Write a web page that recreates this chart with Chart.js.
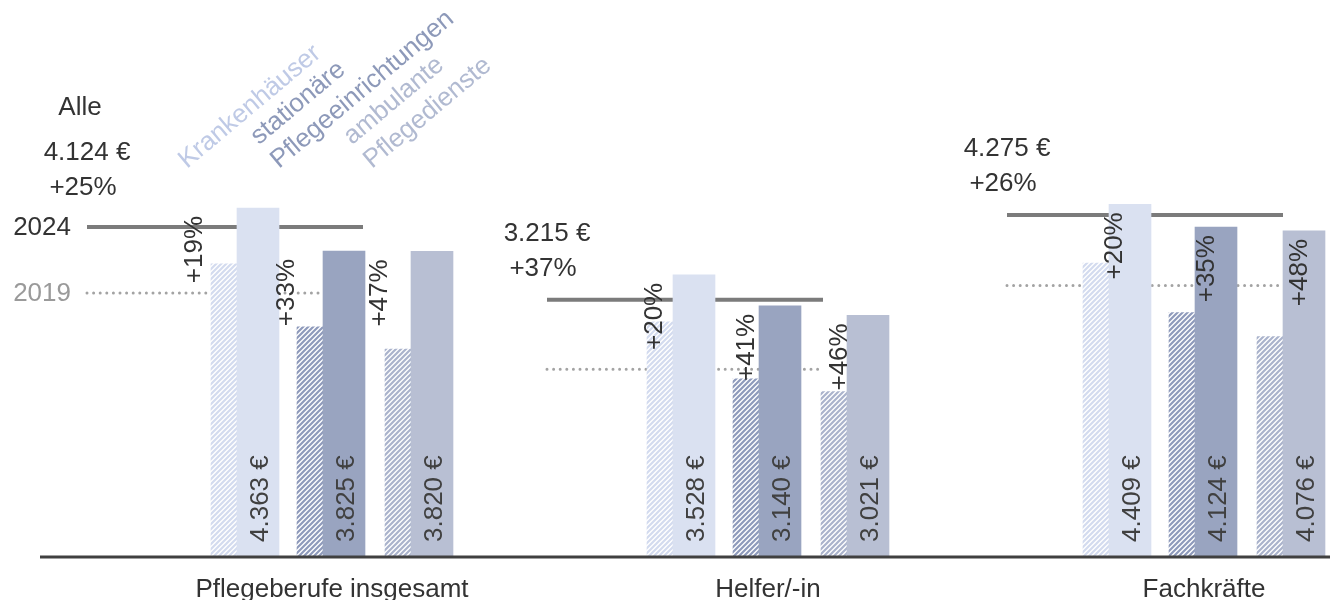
<!DOCTYPE html>
<html>
<head>
<meta charset="utf-8">
<script src="https://cdn.jsdelivr.net/npm/chart.js@4/dist/chart.umd.min.js"></script>
<style>
  body { margin: 0; background: #fff; }
  canvas { display: block; }
</style>
</head>
<body>
<canvas id="chart" width="1330" height="600"></canvas>
<script>
const categories = ['Pflegeberufe insgesamt', 'Helfer/-in', 'Fachkräfte']
const typeLabels = [['Krankenhäuser'], ['stationäre', 'Pflegeeinrichtungen'], ['ambulante', 'Pflegedienste']]

const krankenhaus2024 = [4363, 3528, 4409]
const stationaer2024 = [3825, 3140, 4124]
const ambulant2024 = [3820, 3021, 4076]

const krankenhaus2019 = [3666, 2940, 3674]
const stationaer2019 = [2876, 2227, 3055]
const ambulant2019 = [2599, 2069, 2754]

const growthKrankenhaus = [19, 20, 20]
const growthStationaer = [33, 41, 35]
const growthAmbulant = [47, 46, 48]

const alle2024 = [4124, 3215, 4275]
const alle2019 = [3299, 2347, 3393]
const alleGrowth = [25, 37, 26]

// layout
const W = 1330
const BAR_UNIT = 436, BAR_ORIGIN = 344
const LINE_UNIT = 460, LINE_ORIGIN = 87
const solidOffset = [-86, 0, 88].map(p => p / BAR_UNIT)
const hatchShift = -34 / BAR_UNIT
const lineSpan = 276 / LINE_UNIT
const pctOffset = [105, 197, 290].map(p => p / LINE_UNIT)
const FONT = '26px "Liberation Sans", Arial, sans-serif'

const colors = ['#dae1f1', '#99a4c0', '#b8bfd3']
const hatchColors = ['#d3dbef', '#8e9abb', '#aab3cc']
const legendColors = ['#bfcae6', '#8d99b9', '#b1bad1']

function hatch(color) {
  const c = document.createElement('canvas')
  c.width = 5; c.height = 5
  const g = c.getContext('2d')
  g.fillStyle = '#fff'
  g.fillRect(0, 0, 5, 5)
  g.strokeStyle = color
  g.lineWidth = 2.2
  g.beginPath()
  g.moveTo(-1, 6); g.lineTo(6, -1)
  g.moveTo(-1, 1); g.lineTo(1, -1)
  g.moveTo(4, 6); g.lineTo(6, 4)
  g.stroke()
  return g.createPattern(c, 'repeat')
}

function euro(v) {
  return Math.floor(v / 1000) + '.' + String(v % 1000).padStart(3, '0') + ' €'
}

const series2024 = [krankenhaus2024, stationaer2024, ambulant2024]
const series2019 = [krankenhaus2019, stationaer2019, ambulant2019]
const growth = [growthKrankenhaus, growthStationaer, growthAmbulant]

function linePoints(values) {
  const pts = []
  values.forEach((v, i) => {
    pts.push({x: i, y: v}, {x: i + lineSpan, y: v}, {x: i + lineSpan + 0.1, y: null})
  })
  return pts
}

const datasets = []
series2019.forEach((vals, t) => {
  datasets.push({
    type: 'bar',
    data: vals.map((v, i) => ({x: i + solidOffset[t] + hatchShift, y: v})),
    backgroundColor: hatch(hatchColors[t]),
    barThickness: 26,
    grouped: false,
    order: 2
  })
})
series2024.forEach((vals, t) => {
  datasets.push({
    type: 'bar',
    data: vals.map((v, i) => ({x: i + solidOffset[t], y: v})),
    backgroundColor: colors[t],
    barThickness: 42,
    grouped: false,
    order: 1
  })
})
datasets.push({
  type: 'line', xAxisID: 'xl',
  data: linePoints(alle2024),
  borderColor: '#7b7b7b', borderWidth: 4, pointRadius: 0, spanGaps: false,
  order: 10
})
datasets.push({
  type: 'line', xAxisID: 'xl',
  data: linePoints(alle2019),
  borderColor: '#a3a3a3', borderWidth: 3, borderDash: [0, 6.6], borderCapStyle: 'round',
  pointRadius: 0, spanGaps: false,
  order: 11
})

const labelsPlugin = {
  id: 'labels',
  afterDatasetsDraw(chart) {
    const ctx = chart.ctx
    const x = chart.scales.x, xl = chart.scales.xl, y = chart.scales.y
    const y0 = y.getPixelForValue(0)
    ctx.save()
    ctx.font = FONT

    // baseline
    ctx.strokeStyle = '#404040'
    ctx.lineWidth = 3
    ctx.beginPath()
    ctx.moveTo(40, y0); ctx.lineTo(W, y0)
    ctx.stroke()

    const rotText = (text, cx, py, align) => {
      ctx.save()
      ctx.translate(cx + 9.5, py)
      ctx.rotate(-Math.PI / 2)
      ctx.textAlign = align
      ctx.textBaseline = 'alphabetic'
      ctx.fillText(text, 0, 0)
      ctx.restore()
    }

    categories.forEach((cat, i) => {
      // values inside bars and growth labels
      series2024.forEach((vals, t) => {
        ctx.fillStyle = '#404040'
        rotText(euro(vals[i]), x.getPixelForValue(i + solidOffset[t]), y0 - 15, 'left')
        ctx.fillStyle = '#333'
        rotText('+' + growth[t][i] + '%', xl.getPixelForValue(i + pctOffset[t]),
          y.getPixelForValue(vals[i]) + 8, 'right')
      })

      // Alle labels
      const lx = xl.getPixelForValue(i)
      const ly = y.getPixelForValue(alle2024[i])
      const lift = i === 0 ? 8 : 0
      ctx.fillStyle = '#333'
      ctx.textAlign = 'center'
      ctx.textBaseline = 'middle'
      ctx.fillText(euro(alle2024[i]), lx, ly - 66 - lift)
      ctx.fillText('+' + alleGrowth[i] + '%', lx - 4, ly - 31 - lift)
      if (i === 0) ctx.fillText('Alle', lx - 7, ly - 119)

      // category label
      ctx.textBaseline = 'alphabetic'
      ctx.fillText(cat, x.getPixelForValue(i) - 12, 597)
    })

    // year labels
    const y24 = y.getPixelForValue(alle2024[0])
    const y19 = y.getPixelForValue(alle2019[0])
    ctx.textAlign = 'right'
    ctx.textBaseline = 'middle'
    ctx.fillStyle = '#333'
    ctx.fillText('2024', 71, y24 + 1)
    ctx.fillStyle = '#9a9a9a'
    ctx.fillText('2019', 71, y19 + 1)

    // rotated type legend over first group
    typeLabels.forEach((lines, t) => {
      ctx.save()
      ctx.translate(xl.getPixelForValue(pctOffset[t]) - 5, 169)
      ctx.rotate(-40 * Math.PI / 180)
      ctx.fillStyle = legendColors[t]
      ctx.textAlign = 'left'
      ctx.textBaseline = 'alphabetic'
      lines.forEach((ln, k) => ctx.fillText(ln, 0, (k - lines.length + 1) * 31))
      ctx.restore()
    })
    ctx.restore()
  }
}

new Chart(document.getElementById('chart'), {
  type: 'bar',
  data: { datasets },
  options: {
    responsive: false,
    animation: false,
    layout: { padding: { top: 0, left: 0, right: 0, bottom: 43 } },
    plugins: { legend: { display: false }, tooltip: { enabled: false } },
    scales: {
      x: { type: 'linear', display: false, offset: false, min: -BAR_ORIGIN / BAR_UNIT, max: (W - BAR_ORIGIN) / BAR_UNIT },
      xl: { type: 'linear', display: false, offset: false, min: -LINE_ORIGIN / LINE_UNIT, max: (W - LINE_ORIGIN) / LINE_UNIT },
      y: { display: false, min: 0, max: 557 / 0.08 }
    }
  },
  plugins: [labelsPlugin]
})
</script>
</body>
</html>
